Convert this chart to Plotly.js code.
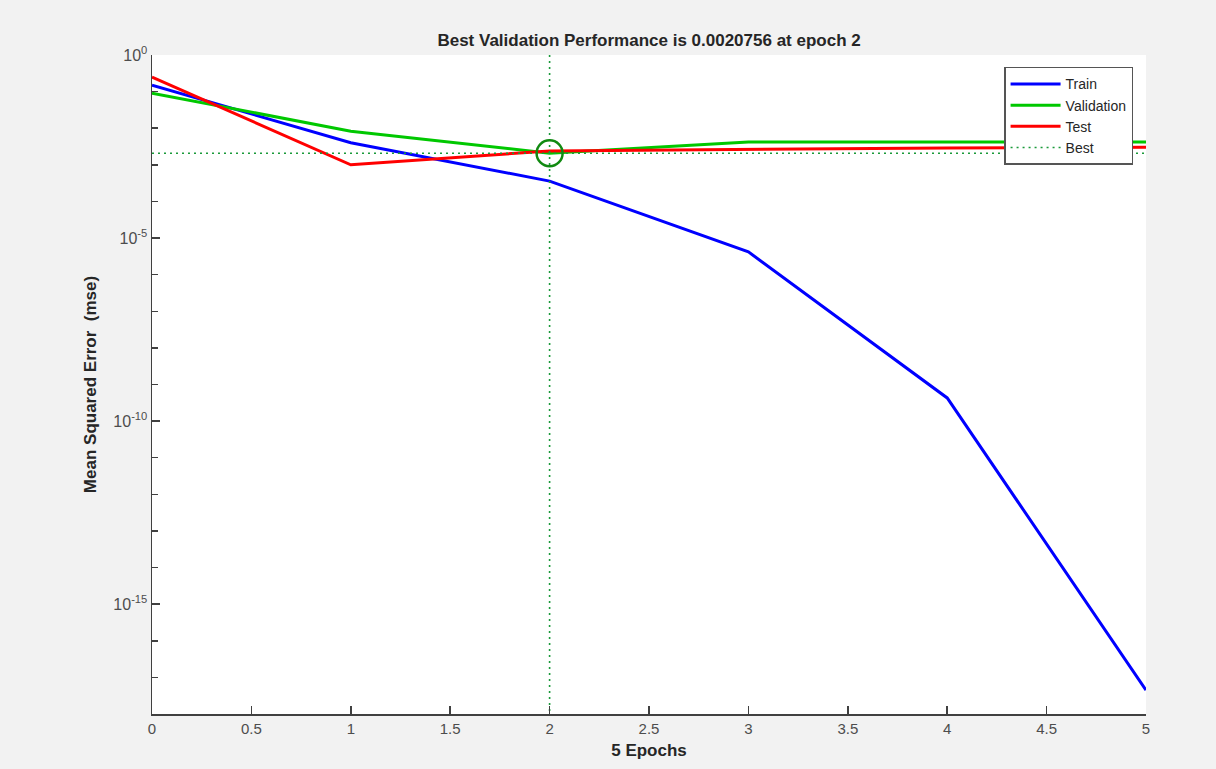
<!DOCTYPE html>
<html>
<head>
<meta charset="utf-8">
<script src="https://cdn.plot.ly/plotly-3.0.1.min.js"></script>
<style>
html,body{margin:0;padding:0;background:#f2f2f2;}
#chart{width:1216px;height:769px;}
</style>
</head>
<body>
<div id="chart"></div>
<script>
// Data
const epochs = [0, 1, 2, 3, 4, 5];
const trainMSE = [0.15, 0.0040, 3.6e-4, 4.2e-6, 4.3e-10, 4.5e-18];
const validationMSE = [0.091, 0.0083, 0.0020756, 0.0042, 0.0042, 0.0042];
const testMSE = [0.25, 0.0010, 0.0024, 0.0027, 0.0029, 0.0030];
const bestEpoch = 2;
const bestValue = 0.0020756;
const yRangeExp = [-18, 0];
const yLabelExps = [0, -5, -10, -15];
const yMinorExps = [-1,-2,-3,-4,-6,-7,-8,-9,-11,-12,-13,-14,-16,-17,-18];
const xTickVals = [0, 0.5, 1, 1.5, 2, 2.5, 3, 3.5, 4, 4.5, 5];

const yTickVals = yLabelExps.map(e => Math.pow(10, e));
const yTickText = yLabelExps.map(e => '10<sup>' + e + '</sup>');
const yMinorVals = yMinorExps.map(e => Math.pow(10, e));

const font = 'Liberation Sans, Arial, sans-serif';
const bestColor = '#1a9a3a';
const traces = [
  {x: epochs, y: trainMSE, mode: 'lines', name: 'Train', line: {color: '#0000ff', width: 3}},
  {x: epochs, y: validationMSE, mode: 'lines', name: 'Validation', line: {color: '#00c800', width: 3}},
  {x: epochs, y: testMSE, mode: 'lines', name: 'Test', line: {color: '#ff0000', width: 3}},
  {x: [epochs[0], epochs[epochs.length-1]], y: [bestValue, bestValue],
   mode: 'lines', name: 'Best', legendgroup: 'best', line: {color: bestColor, width: 1.6, dash: '2px,4px'}},
  {x: [bestEpoch, bestEpoch], y: [Math.pow(10, yRangeExp[1]), Math.pow(10, yRangeExp[0])],
   mode: 'lines', name: 'Best', legendgroup: 'best', showlegend: false, line: {color: bestColor, width: 1.6, dash: '2px,4px'}},
  {x: [bestEpoch], y: [bestValue], mode: 'markers', showlegend: false,
   marker: {symbol: 'circle-open', size: 26, color: '#118a11', line: {width: 2.5, color: '#118a11'}}}
];

const layout = {
  width: 1216, height: 769,
  paper_bgcolor: '#f2f2f2', plot_bgcolor: '#ffffff',
  margin: {l: 152, r: 70, t: 55, b: 55},
  font: {family: font, color: '#4d4d4d', size: 15},
  title: {text: '<b>Best Validation Performance is 0.0020756 at epoch 2</b>',
          font: {family: font, size: 17, color: '#262626'}, x: 0.5338, xanchor: 'center', y: 0.948, yanchor: 'middle'},
  xaxis: {
    range: [0, 5], tickvals: xTickVals, ticks: 'inside', ticklen: 8, tickwidth: 1.5, tickcolor: '#404040',
    showline: true, linecolor: '#404040', linewidth: 1.5, showgrid: false, zeroline: false, mirror: false,
    tickfont: {size: 15, color: '#4d4d4d'},
    title: {text: '<b>5 Epochs</b>', font: {size: 17, color: '#262626'}, standoff: 8}
  },
  yaxis: {
    type: 'log', range: yRangeExp, tickvals: yTickVals, ticktext: yTickText,
    ticks: 'inside', ticklen: 8, tickwidth: 1.5, tickcolor: '#404040',
    minor: {tickmode: 'array', tickvals: yMinorVals, ticks: 'inside', ticklen: 6, tickwidth: 1.5, tickcolor: '#404040', showgrid: false},
    showline: true, linecolor: '#404040', linewidth: 1.5, showgrid: false, zeroline: false, mirror: false,
    tickfont: {size: 16, color: '#4d4d4d'},
    title: {text: '<b>Mean Squared Error  (mse)</b>', font: {size: 17, color: '#262626'}, standoff: 12}
  },
  legend: {
    x: 0.987, xanchor: 'right', y: 0.982, yanchor: 'top',
    bgcolor: '#ffffff', bordercolor: '#555555', borderwidth: 1.5,
    font: {size: 14, color: '#262626'}, tracegroupgap: 0, itemwidth: 50,
    traceorder: 'normal'
  },
  showlegend: true
};

Plotly.newPlot('chart', traces, layout, {displayModeBar: false, staticPlot: true});
</script>
</body>
</html>
